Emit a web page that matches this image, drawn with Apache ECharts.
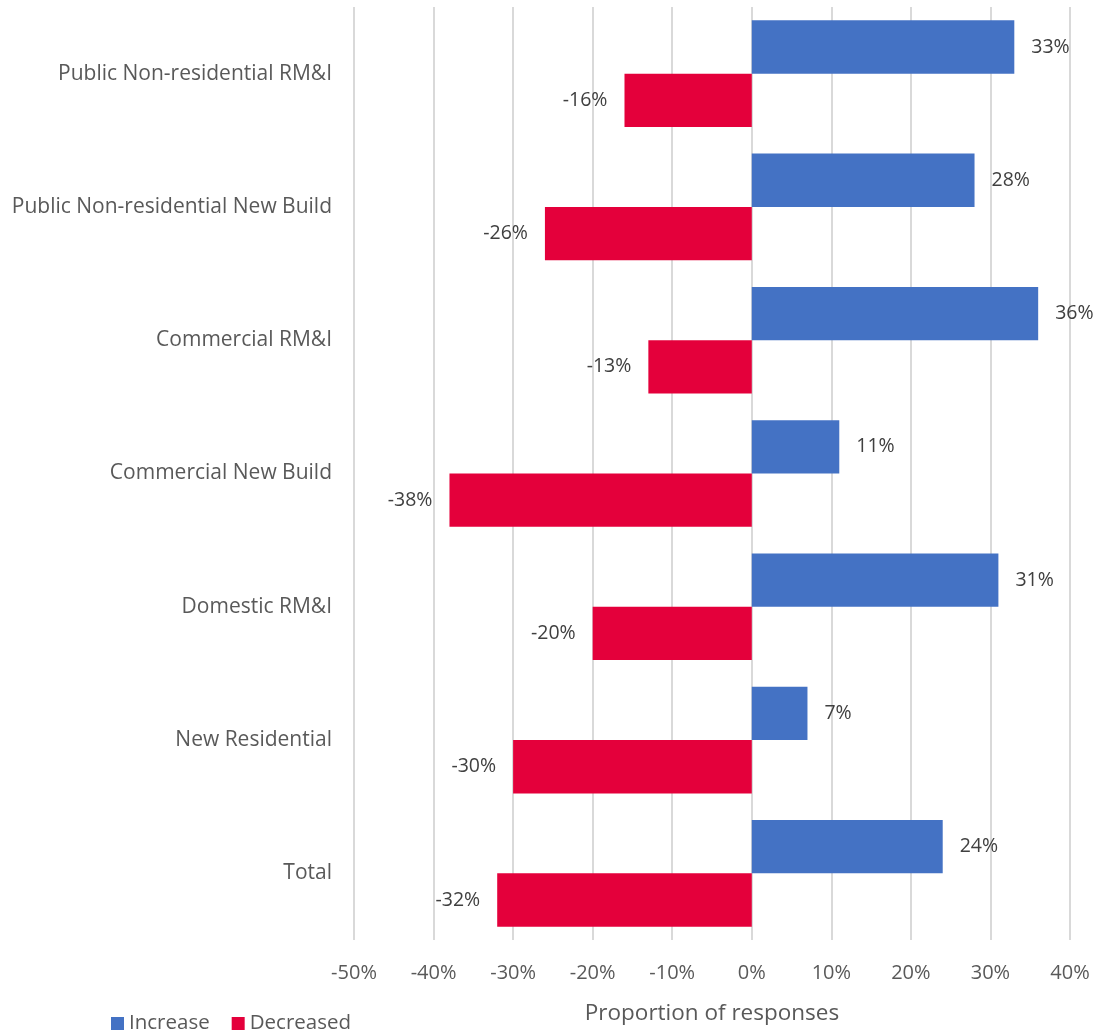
<!DOCTYPE html>
<html>
<head>
<meta charset="utf-8">
<script src="https://cdn.jsdelivr.net/npm/echarts@6/dist/echarts.min.js"></script>
<style>
  html, body { margin: 0; padding: 0; background: #fff; }
  #chart { width: 1097px; height: 1035px; }
</style>
</head>
<body>
<div id="chart"></div>
<script>
// Sectors, listed bottom-to-top as the category axis draws them
const categories = [
  'Total',
  'New Residential',
  'Domestic RM&I',
  'Commercial New Build',
  'Commercial RM&I',
  'Public Non-residential New Build',
  'Public Non-residential RM&I'
];
// Share of responses (%)
const increase = [24, 7, 31, 11, 36, 28, 33];
const decreased = [-32, -30, -20, -38, -13, -26, -16];

const FONT = 'Open Sans';
const chart = echarts.init(document.getElementById('chart'));

chart.setOption({
  animation: false,
  textStyle: { fontFamily: FONT },
  grid: { left: 354, right: 27, top: 7, bottom: 95, containLabel: false },
  legend: {
    left: 106,
    top: 1008,
    itemWidth: 13,
    itemHeight: 13,
    itemGap: 22,
    icon: 'rect',
    textStyle: { fontFamily: FONT, fontSize: 20.5, color: '#595959' },
    data: ['Increase', 'Decreased']
  },
  xAxis: {
    type: 'value',
    min: -50,
    max: 40,
    interval: 10,
    name: 'Proportion of responses',
    nameLocation: 'middle',
    nameGap: 62,
    nameTextStyle: { fontFamily: FONT, fontSize: 22.5, color: '#595959' },
    axisLabel: {
      formatter: '{value}%',
      fontFamily: FONT,
      fontSize: 20,
      color: '#595959',
      margin: 23
    },
    axisLine: { show: false },
    axisTick: { show: false },
    splitLine: { show: true, lineStyle: { color: '#d9d9d9', width: 2 } }
  },
  yAxis: {
    type: 'category',
    data: categories,
    axisLine: { show: false },
    axisTick: { show: false },
    axisLabel: {
      fontFamily: FONT,
      fontSize: 21,
      color: '#595959',
      margin: 22
    }
  },
  series: [
    {
      name: 'Increase',
      type: 'bar',
      data: increase,
      barGap: '0%',
      barCategoryGap: '20%',
      itemStyle: { color: '#4472C4' },
      label: {
        show: true,
        position: 'right',
        distance: 17,
        formatter: p => p.value + '%',
        fontFamily: FONT,
        fontSize: 19.5,
        color: '#404040'
      }
    },
    {
      name: 'Decreased',
      type: 'bar',
      data: decreased,
      barGap: '0%',
      barCategoryGap: '20%',
      itemStyle: { color: '#E4003B' },
      label: {
        show: true,
        position: 'left',
        distance: 17,
        formatter: p => p.value + '%',
        fontFamily: FONT,
        fontSize: 19.5,
        color: '#404040'
      }
    }
  ]
});
</script>
</body>
</html>
